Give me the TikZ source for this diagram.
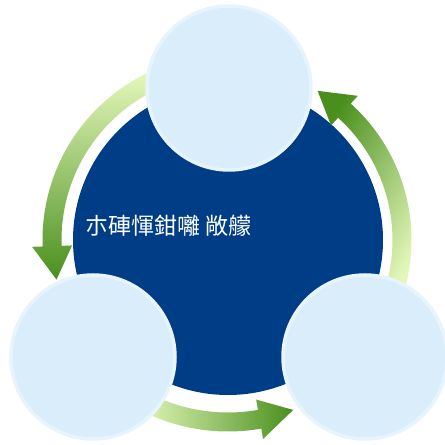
\documentclass[tikz,border=0pt]{standalone}
\usepackage{fontspec}
\newfontfamily\cjk{Noto Sans CJK TC}

\definecolor{hubblue}{RGB}{0,61,135}
\definecolor{stagefill}{RGB}{217,238,250}
\definecolor{stagerim}{RGB}{232,244,252}
\definecolor{arrowdark}{RGB}{74,143,30}
\definecolor{arrowpale}{RGB}{228,247,186}

\begin{document}
\begin{tikzpicture}[x=1pt, y=1pt,
        hub/.style={
            % The shape:
            circle,
            % The size:
            minimum size=310pt,
            inner sep=0pt,
            % The filling
            fill=hubblue
        },
        stage/.style={
            % The shape:
            circle,
            % The size:
            minimum size=164pt,
            inner sep=0pt,
            % The border
            line width=3.5pt,
            draw=stagerim,
            % The filling
            fill=stagefill
        },
        cyclearrow/.style={
            top color=arrowdark,
            bottom color=arrowpale
        }]

        \useasboundingbox (0,0) rectangle (445,445);

        \node [hub] (hub) at (228,205) {};

        % radius/tail/head base/tip/shading
        \foreach \R/\from/\base/\tip/\ang in {176/116/182/193/180, 174/-16/48/59/60, 182/-118/-80/-69/270}
        {
            \shade [cyclearrow, shading angle=\ang, shift={(hub.center)}]
                (\from:\R+9.5) arc [start angle=\from, end angle=\base, radius=\R+9.5]
                -- (\base:\R+20) -- (\tip:\R) -- (\base:\R-20)
                -- (\base:\R-9.5) arc [start angle=\base, end angle=\from, radius=\R-9.5]
                -- cycle;
        }

        \node [anchor=west, text=white, font=\cjk\fontsize{23}{27}\selectfont] (title) at (82,219) {朩硨惲鉗囄 敞艨};

        \foreach \name/\x/\y in {stagetop/229/357, stageleft/93/88, stageright/365/88}
        {
            \node [stage] (\name) at (\x,\y) {};
        }

    \end{tikzpicture}
\end{document}
